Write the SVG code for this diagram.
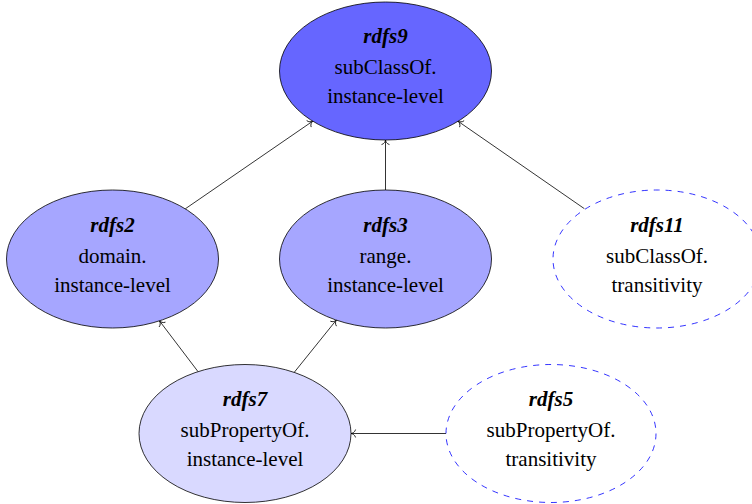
<svg xmlns="http://www.w3.org/2000/svg" width="752" height="504" viewBox="0 0 752 504">
<style>
.n{stroke:#000;stroke-width:0.8}
.d{fill:#fff;stroke:#0000ff;stroke-width:0.8;stroke-dasharray:6 6}
text{font-family:"Liberation Serif","Times New Roman",serif;font-size:21px;fill:#000;text-anchor:middle}
.t{font-weight:bold;font-style:italic}
.e{fill:none;stroke:#000;stroke-width:0.8;marker-end:url(#arr)}
</style>
<defs>
<marker id="arr" markerUnits="userSpaceOnUse" markerWidth="12" markerHeight="12" refX="0" refY="0" viewBox="-6 -6 12 12" orient="auto" overflow="visible">
<path d="M -4.5,-3.6 C -4,-1.4 -1.6,-0.3 0,0 C -1.6,0.3 -4,1.4 -4.5,3.6" fill="none" stroke="#000" stroke-width="0.8" stroke-linecap="round"/>
</marker>
</defs>
<g id="connectors">
<line class="e" x1="185.3" y1="208.8" x2="312.7" y2="121.2"/>
<line class="e" x1="385.5" y1="190" x2="385.5" y2="140"/>
<line class="e" x1="584.4" y1="208.7" x2="458.1" y2="121.3"/>
<line class="e" x1="198" y1="371.6" x2="159.5" y2="320.9"/>
<line class="e" x1="294.2" y1="372.4" x2="336.3" y2="320.1"/>
<line class="e" x1="446" y1="433.5" x2="351" y2="433.5"/>
</g>
<g id="rdfs9">
<ellipse class="n" cx="385.5" cy="71" rx="106" ry="69" fill="#6666ff"/>
<text class="t" x="385.5" y="43">rdfs9</text>
<text x="385.5" y="74">subClassOf.</text>
<text x="385.5" y="103">instance-level</text>
</g>
<g id="rdfs2">
<ellipse class="n" cx="112.5" cy="259" rx="106" ry="69" fill="#a6a6ff"/>
<text class="t" x="112.5" y="231.5">rdfs2</text>
<text x="112.5" y="262.5">domain.</text>
<text x="112.5" y="291.5">instance-level</text>
</g>
<g id="rdfs3">
<ellipse class="n" cx="385.5" cy="259" rx="106" ry="69" fill="#a6a6ff"/>
<text class="t" x="385.5" y="231.5">rdfs3</text>
<text x="385.5" y="262.5">range.</text>
<text x="385.5" y="291.5">instance-level</text>
</g>
<g id="rdfs11">
<ellipse class="d" cx="657" cy="259" rx="104" ry="69"/>
<text class="t" x="657" y="231.5">rdfs11</text>
<text x="657" y="262.5">subClassOf.</text>
<text x="657" y="291.5">transitivity</text>
</g>
<g id="rdfs7">
<ellipse class="n" cx="245" cy="433.5" rx="106" ry="69" fill="#d9d9ff"/>
<text class="t" x="245" y="406">rdfs7</text>
<text x="245" y="437">subPropertyOf.</text>
<text x="245" y="466">instance-level</text>
</g>
<g id="rdfs5">
<ellipse class="d" cx="551" cy="433.5" rx="105" ry="69"/>
<text class="t" x="551" y="406">rdfs5</text>
<text x="551" y="437">subPropertyOf.</text>
<text x="551" y="466">transitivity</text>
</g>
</svg>
